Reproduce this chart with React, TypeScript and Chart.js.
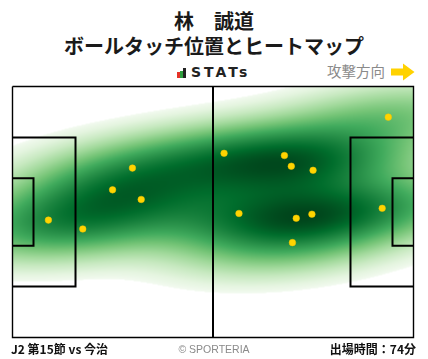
import React, { useEffect, useRef } from 'react';
import { Chart, registerables } from 'chart.js';

Chart.register(...registerables);

// Pitch size (metres)
const PITCH_LENGTH = 105;
const PITCH_WIDTH = 68;

// Ball touch positions (metres, x = attacking direction, y = from top touchline)
const touchX = [31.4, 26.2, 33.7, 9.4, 18.4, 98.4, 55.4, 71.2, 73.0, 78.7, 59.3, 74.3, 78.4, 96.8, 73.3];
const touchY = [22.1, 28.0, 30.6, 36.2, 38.6, 8.3, 18.1, 18.7, 21.6, 22.7, 34.4, 35.7, 34.6, 33.0, 42.3];

// Pitch markings (metres)
const outlineLine = [[0, 0], [105, 0], [105, 68], [0, 68], [0, 0]];
const halfwayLine = [[52.5, 0], [52.5, 68]];
const leftPenaltyBox = [[0, 13.84], [16.5, 13.84], [16.5, 54.16], [0, 54.16]];
const leftGoalArea = [[0, 24.84], [5.5, 24.84], [5.5, 43.16], [0, 43.16]];
const rightPenaltyBox = [[105, 13.84], [88.5, 13.84], [88.5, 54.16], [105, 54.16]];
const rightGoalArea = [[105, 24.84], [99.5, 24.84], [99.5, 43.16], [105, 43.16]];

// Texts
const titleName = '林　誠道';
const titleSub = 'ボールタッチ位置とヒートマップ';
const footerLeft = 'J2 第15節 vs 今治';
const footerCenter = '© SPORTERIA';
const footerRight = '出場時間：74分';
const directionLabel = '攻撃方向';

// KDE settings
const BW_ADJUST = 1.0;
const LEVEL_FLOOR = 0.02; // lowest drawn density, as a share of the peak
const GAMMA = 0.55;

// matplotlib "Greens"
const GREENS = [
  [247, 252, 245], [229, 245, 224], [199, 233, 192], [161, 217, 155], [116, 196, 118],
  [65, 171, 93], [35, 139, 69], [0, 109, 44], [0, 68, 27],
];

function greens(t: number): number[] {
  const v = Math.max(0, Math.min(1, t)) * (GREENS.length - 1);
  const i = Math.min(GREENS.length - 2, Math.floor(v));
  const f = v - i;
  const a = GREENS[i], b = GREENS[i + 1];
  return [a[0] + (b[0] - a[0]) * f, a[1] + (b[1] - a[1]) * f, a[2] + (b[2] - a[2]) * f];
}

function makeKde(xs: number[], ys: number[], bwAdjust: number) {
  const n = xs.length;
  const mx = xs.reduce((s, v) => s + v, 0) / n;
  const my = ys.reduce((s, v) => s + v, 0) / n;
  let sxx = 0, syy = 0, sxy = 0;
  for (let i = 0; i < n; i++) {
    sxx += (xs[i] - mx) ** 2;
    syy += (ys[i] - my) ** 2;
    sxy += (xs[i] - mx) * (ys[i] - my);
  }
  const f2 = Math.pow(n, -2 / 6) * bwAdjust * bwAdjust;
  const a = (sxx / (n - 1)) * f2, b = (sxy / (n - 1)) * f2, c = (syy / (n - 1)) * f2;
  const det = a * c - b * b;
  const ia = c / det, ib = -b / det, ic = a / det;
  const norm = 1 / (n * 2 * Math.PI * Math.sqrt(det));
  const fn = (x: number, y: number) => {
    let s = 0;
    for (let i = 0; i < n; i++) {
      const dx = x - xs[i], dy = y - ys[i];
      s += Math.exp(-0.5 * (ia * dx * dx + 2 * ib * dx * dy + ic * dy * dy));
    }
    return s * norm;
  };
  return { fn };
}

const heatPlugin = {
  id: 'heat',
  beforeDatasetsDraw(chart: any) {
    const { ctx, chartArea: area, scales } = chart;
    const xs = scales.x, ys = scales.y;
    const kde = makeKde(touchX, touchY, BW_ADJUST);
    const w = Math.round(area.right - area.left), h = Math.round(area.bottom - area.top);
    const dens = new Float64Array(w * h);
    let vmax = 0;
    for (let py = 0; py < h; py++) {
      const dy = ys.getValueForPixel(area.top + py + 0.5);
      for (let px = 0; px < w; px++) {
        const dx = xs.getValueForPixel(area.left + px + 0.5);
        const d = kde.fn(dx, dy);
        dens[py * w + px] = d;
        if (d > vmax) vmax = d;
      }
    }
    const level0 = LEVEL_FLOOR * vmax;
    const off = document.createElement('canvas');
    off.width = w; off.height = h;
    const octx = off.getContext('2d')!;
    const img = octx.createImageData(w, h);
    for (let k = 0; k < w * h; k++) {
      const d = dens[k];
      const idx = k * 4;
      if (d >= level0) {
        const c = greens(Math.pow((d - level0) / (vmax - level0), GAMMA));
        img.data[idx] = c[0]; img.data[idx + 1] = c[1]; img.data[idx + 2] = c[2]; img.data[idx + 3] = 255;
      } else {
        img.data[idx + 3] = 0;
      }
    }
    octx.putImageData(img, 0, 0);
    ctx.save();
    ctx.drawImage(off, area.left, area.top);
    ctx.restore();
  },
};

function lineDataset(points: number[][], width: number) {
  return {
    type: 'line' as const,
    data: points.map(([x, y]) => ({ x, y })),
    borderColor: '#000',
    borderWidth: width,
    pointRadius: 0,
    showLine: true,
    fill: false,
    tension: 0,
    clip: false as any,
    order: 2,
  };
}

export default function App() {
  const ref = useRef<HTMLCanvasElement>(null);
  useEffect(() => {
    if (!ref.current) return;
    const chart = new Chart(ref.current, {
      type: 'scatter',
      data: {
        datasets: [
          {
            data: touchX.map((x, i) => ({ x, y: touchY[i] })),
            backgroundColor: '#ffd400',
            borderColor: '#f2c200',
            borderWidth: 0.5,
            pointRadius: 3.3,
            clip: false as any,
            order: 0,
          } as any,
          lineDataset(outlineLine, 1.4),
          lineDataset(halfwayLine, 2),
          lineDataset(leftPenaltyBox, 2),
          lineDataset(leftGoalArea, 2),
          lineDataset(rightPenaltyBox, 2),
          lineDataset(rightGoalArea, 2),
        ],
      },
      options: {
        animation: false,
        responsive: false,
        layout: { padding: 2 },
        plugins: { legend: { display: false }, tooltip: { enabled: false } },
        scales: {
          x: { type: 'linear', min: 0, max: PITCH_LENGTH, display: false },
          y: { type: 'linear', min: 0, max: PITCH_WIDTH, reverse: true, display: false },
        },
      },
      plugins: [heatPlugin],
    });
    return () => chart.destroy();
  }, []);

  const font = '"Noto Sans CJK JP", "Noto Sans", sans-serif';
  return (
    <div style={{ position: 'absolute', left: 0, top: 0, width: 428, height: 359, background: '#fff', fontFamily: font, overflow: 'hidden' }}>
      <div style={{ position: 'absolute', top: 8, left: 0, width: 428, textAlign: 'center', fontWeight: 700, fontSize: 20, lineHeight: '25px', color: '#1a1a1a' }}>
        <div>{titleName}</div>
        <div>{titleSub}</div>
      </div>
      {/* STATs logo */}
      <div style={{ position: 'absolute', left: 177, top: 72, width: 3, height: 5.5, background: '#e63228' }} />
      <div style={{ position: 'absolute', left: 180, top: 71, width: 2.5, height: 6.5, background: '#2e9e3e' }} />
      <div style={{ position: 'absolute', left: 183, top: 68, width: 3, height: 9.5, background: '#222' }} />
      <div style={{ position: 'absolute', left: 191, top: 62, fontFamily: '"DejaVu Sans", sans-serif', fontWeight: 700, fontSize: 14, lineHeight: '20px', letterSpacing: 3, color: '#222' }}>STATs</div>
      {/* direction */}
      <div style={{ position: 'absolute', right: 43, top: 61, fontSize: 14.5, lineHeight: '20px', color: '#8a8a8a' }}>{directionLabel}</div>
      <svg style={{ position: 'absolute', left: 390, top: 63 }} width={26} height={18}>
        <polygon points="1,5.5 13,5.5 13,0.5 24.5,9 13,17.5 13,12.5 1,12.5" fill="#ffd200" />
      </svg>
      <canvas ref={ref} width={410} height={260} style={{ position: 'absolute', left: 8, top: 82 }} />
      <div style={{ position: 'absolute', left: 11, top: 340, fontSize: 12, fontWeight: 700, lineHeight: '18px', color: '#111' }}>{footerLeft}</div>
      <div style={{ position: 'absolute', left: 0, width: 428, textAlign: 'center', top: 340, fontSize: 10.5, lineHeight: '18px', color: '#8a8a8a', fontFamily: '"Liberation Sans", Roboto, sans-serif' }}>{footerCenter}</div>
      <div style={{ position: 'absolute', right: 12, top: 340, fontSize: 12, fontWeight: 700, lineHeight: '18px', color: '#111' }}>{footerRight}</div>
    </div>
  );
}
